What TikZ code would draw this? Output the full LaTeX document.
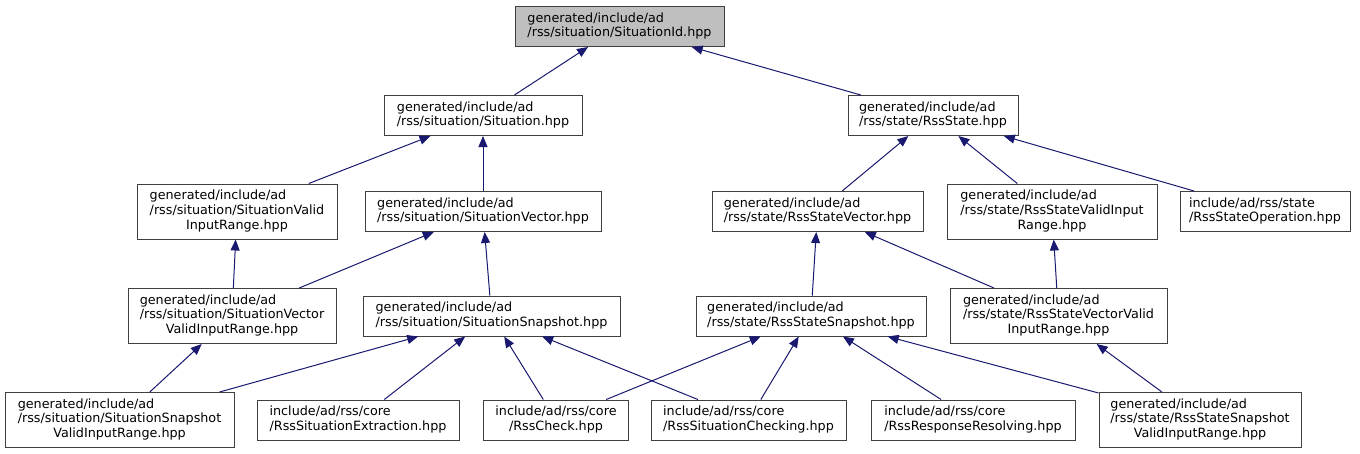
\documentclass[tikz,border=0pt]{standalone}
\usepackage{fontspec}
\setmainfont{DejaVu Sans}
\usetikzlibrary{arrows.meta}

\definecolor{depblue}{HTML}{191970}
\newcommand{\filefont}{\fontsize{12.75}{14.8}\selectfont}
\newcommand{\twoline}[2]{\begin{tabular}{@{}l@{}}#1\\\multicolumn{1}{@{}c@{}}{#2}\end{tabular}}
\newcommand{\threeline}[3]{\begin{tabular}{@{}l@{}}#1\\#2\\\multicolumn{1}{@{}c@{}}{#3}\end{tabular}}

\begin{document}
\begin{tikzpicture}
  [
  x=1pt, y=-1pt,
  filenode/.style={draw=black!75, fill=white, line width=1pt, inner sep=0pt, minimum height=40pt, font=\filefont},
  tallnode/.style={filenode, minimum height=55pt},
  dep/.style={draw=depblue, -{Triangle[length=11pt,width=9pt]}, line width=1pt}
  ]
  \useasboundingbox (0,0) rectangle (1360,453);

  \node[filenode, fill=black!25, minimum width=209pt] (sid) at (619.5,26.5) {\twoline{generated/include/ad}{/rss/situation/SituationId.hpp}};

  \node[filenode, minimum width=198pt] (sit) at (483,115.5) {\twoline{generated/include/ad}{/rss/situation/Situation.hpp}};
  \node[filenode, minimum width=170pt] (rst) at (933,115.5) {\twoline{generated/include/ad}{/rss/state/RssState.hpp}};

  \node[tallnode, minimum width=200pt] (sitvir) at (237,211.5) {\threeline{generated/include/ad}{/rss/situation/SituationValid}{InputRange.hpp}};
  \node[filenode, minimum width=236pt] (sitvec) at (483,211.5) {\twoline{generated/include/ad}{/rss/situation/SituationVector.hpp}};
  \node[filenode, minimum width=211pt] (rstvec) at (817.5,211.5) {\twoline{generated/include/ad}{/rss/state/RssStateVector.hpp}};
  \node[tallnode, minimum width=210pt] (rstvir) at (1052,211.5) {\threeline{generated/include/ad}{/rss/state/RssStateValidInput}{Range.hpp}};
  \node[filenode, minimum width=170pt] (rstop) at (1265,211.5) {\twoline{include/ad/rss/state}{/RssStateOperation.hpp}};

  \node[tallnode, minimum width=208pt] (sitvecvir) at (232,316) {\threeline{generated/include/ad}{/rss/situation/SituationVector}{ValidInputRange.hpp}};
  \node[filenode, minimum width=257pt] (sitsnap) at (491.5,316) {\twoline{generated/include/ad}{/rss/situation/SituationSnapshot.hpp}};
  \node[filenode, minimum width=230pt] (rstsnap) at (811,316) {\twoline{generated/include/ad}{/rss/state/RssStateSnapshot.hpp}};
  \node[tallnode, minimum width=217pt] (rstvecvir) at (1058.5,316) {\threeline{generated/include/ad}{/rss/state/RssStateVectorValid}{InputRange.hpp}};

  \node[tallnode, minimum width=229pt] (sitsnapvir) at (119.5,420) {\threeline{generated/include/ad}{/rss/situation/SituationSnapshot}{ValidInputRange.hpp}};
  \node[filenode, minimum width=202pt] (extract) at (358,420) {\twoline{include/ad/rss/core}{/RssSituationExtraction.hpp}};
  \node[filenode, minimum width=145pt] (check) at (556,420) {\twoline{include/ad/rss/core}{/RssCheck.hpp}};
  \node[filenode, minimum width=195pt] (sitcheck) at (748.5,420) {\twoline{include/ad/rss/core}{/RssSituationChecking.hpp}};
  \node[filenode, minimum width=204pt] (resolve) at (973,420) {\twoline{include/ad/rss/core}{/RssResponseResolving.hpp}};
  \node[tallnode, minimum width=202pt] (rstsnapvir) at (1200,420) {\threeline{generated/include/ad}{/rss/state/RssStateSnapshot}{ValidInputRange.hpp}};

  \draw[dep] (sit) -- (sid);
  \draw[dep] (rst) -- (sid);
  \draw[dep] (sitvir) -- (sit);
  \draw[dep] (sitvec) -- (sit);
  \draw[dep] (rstvec) -- (rst);
  \draw[dep] (rstvir) -- (rst);
  \draw[dep] (rstop) -- (rst);
  \draw[dep] (sitvecvir) -- (sitvir);
  \draw[dep] (sitvecvir) -- (sitvec);
  \draw[dep] (sitsnap) -- (sitvec);
  \draw[dep] (rstsnap) -- (rstvec);
  \draw[dep] (rstvecvir) -- (rstvec);
  \draw[dep] (rstvecvir) -- (rstvir);
  \draw[dep] (sitsnapvir) -- (sitvecvir);
  \draw[dep] (sitsnapvir) -- (sitsnap);
  \draw[dep] (extract) -- (sitsnap);
  \draw[dep] (check) -- (sitsnap);
  \draw[dep] (sitcheck) -- (sitsnap);
  \draw[dep] (check) -- (rstsnap);
  \draw[dep] (sitcheck) -- (rstsnap);
  \draw[dep] (resolve) -- (rstsnap);
  \draw[dep] (rstsnapvir) -- (rstsnap);
  \draw[dep] (rstsnapvir) -- (rstvecvir);
\end{tikzpicture}
\end{document}
